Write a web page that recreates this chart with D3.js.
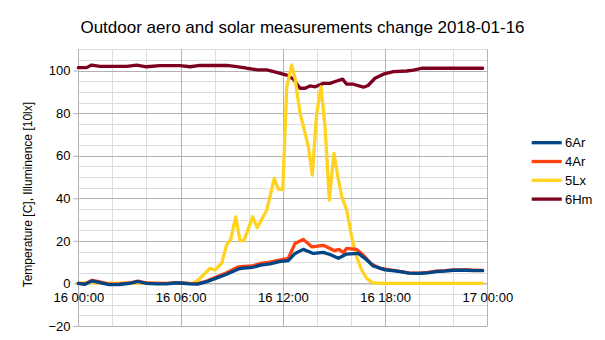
<!DOCTYPE html>
<html>
<head>
<meta charset="utf-8">
<script src="https://cdn.jsdelivr.net/npm/d3@7"></script>
<style>
  html, body { margin: 0; padding: 0; background: #fff; }
  svg { display: block; }
  text { font-family: "Liberation Sans", Arial, sans-serif; fill: #000; }
</style>
</head>
<body>
<svg id="chart" width="605" height="340"></svg>
<script>
// ---------- data ----------
const chartTitle = "Outdoor aero and solar measurements change 2018-01-16";
const yAxisTitle = "Temperature [C], Illuminence [10lx]";
const xTickHours = [0, 6, 12, 18, 24];
const xTickLabels = ["16 00:00", "16 06:00", "16 12:00", "16 18:00", "17 00:00"];
const yTickValues = [-20, 0, 20, 40, 60, 80, 100];
const seriesNames = ["6Ar", "4Ar", "5Lx", "6Hm"];
const seriesColors = ["#004586", "#ff420e", "#ffd320", "#7e0021"];

// hours since 16 00:00 and values
const hours6Ar = [0, 0.4, 0.8, 1.2, 1.8, 2.4, 3.0, 3.5, 4.0, 4.6, 5.2, 5.7, 6.0, 6.5, 7.0, 7.5, 8.1, 8.7, 9.4, 9.7, 10.2, 10.7, 11.25, 11.8, 12.32, 12.72, 13.2, 13.79, 14.38, 14.8, 15.26, 15.75, 16.43, 16.82, 17.31, 18.0, 18.7, 19.4, 20.0, 20.5, 21.0, 21.5, 22.0, 22.8, 23.2, 23.73];
const values6Ar = [0, -0.4, 1.2, 0.5, -0.6, -0.5, 0, 0.9, 0, -0.2, -0.2, 0.2, 0.2, -0.2, -0.3, 0.7, 2.5, 4.3, 6.8, 7.2, 7.5, 8.6, 9.2, 10.2, 10.7, 14.1, 16.0, 14.1, 14.6, 13.5, 11.8, 13.8, 14.1, 11.8, 8.2, 6.4, 5.8, 4.8, 4.7, 5.0, 5.6, 5.8, 6.2, 6.2, 6.0, 6.0];

const hours4Ar = [0, 0.4, 0.8, 1.2, 1.8, 2.4, 3.0, 3.5, 4.0, 4.6, 5.2, 5.7, 6.0, 6.5, 7.0, 7.5, 8.1, 8.7, 9.4, 9.7, 10.2, 10.7, 11.25, 11.8, 12.32, 12.72, 13.2, 13.7, 14.38, 15.04, 15.3, 15.55, 15.75, 16.33, 16.72, 17.2, 17.71, 18.4, 19.4, 20.0, 20.5, 21.0, 21.5, 22.0, 22.8, 23.2, 23.73];
const values4Ar = [0, -0.2, 1.5, 0.8, -0.3, -0.2, 0.2, 1.1, 0.2, 0, 0, 0.4, 0.3, 0, -0.1, 1.0, 3.0, 5.0, 7.8, 8.0, 8.2, 9.4, 10.0, 11.0, 11.8, 18.8, 20.7, 17.2, 17.9, 15.4, 16.0, 14.4, 16.5, 16.0, 13.3, 9.1, 7.1, 6.2, 5.0, 4.8, 5.2, 5.8, 6.0, 6.4, 6.3, 6.2, 6.1];

const hours5Lx = [0, 0.8, 1.5, 3.5, 5.0, 6.0, 6.7, 7.04, 7.73, 8.02, 8.41, 8.7, 8.94, 9.24, 9.49, 9.72, 10.23, 10.5, 11.06, 11.5, 11.74, 12.0, 12.23, 12.52, 12.72, 13.01, 13.31, 13.5, 13.73, 13.99, 14.24, 14.48, 14.73, 15.0, 15.2, 15.46, 15.75, 16.04, 16.33, 16.63, 16.92, 17.27, 18.0, 20.0, 22.0, 23.73];
const values5Lx = [0, 0.5, 0, 0.3, 0, 0, 0, 1.6, 7.1, 6.3, 9.4, 18.0, 20.7, 31.3, 20.1, 20.1, 31.3, 26.2, 34.5, 49.4, 44.2, 44.2, 92.4, 102.6, 96.4, 80.0, 70.5, 64.2, 50.9, 80.0, 92.4, 73.6, 39.2, 61.1, 51.7, 40.7, 34.5, 21.9, 12.5, 6.3, 2.4, 0.3, 0, 0, 0, 0];

const hours6Hm = [0, 0.49, 0.78, 1.27, 2.84, 3.43, 4.0, 4.79, 5.97, 6.55, 7.14, 8.71, 9.3, 9.88, 10.47, 11.05, 11.64, 12.23, 12.62, 13.01, 13.3, 13.6, 13.9, 14.38, 14.77, 15.16, 15.51, 15.75, 16.14, 16.73, 17.0, 17.41, 17.9, 18.49, 19.27, 19.66, 20.15, 23.73];
const values6Hm = [101.4, 101.4, 102.6, 102.0, 102.0, 102.6, 101.8, 102.3, 102.3, 101.8, 102.4, 102.4, 101.9, 101.1, 100.4, 100.3, 99.2, 97.9, 96.0, 91.7, 91.7, 92.8, 92.4, 94.0, 94.0, 95.1, 96.0, 93.6, 93.6, 92.2, 93.0, 96.4, 98.3, 99.5, 99.8, 100.2, 101.1, 101.1];

const seriesHours = [hours6Ar, hours4Ar, hours5Lx, hours6Hm];
const seriesValues = [values6Ar, values4Ar, values5Lx, values6Hm];

// ---------- layout ----------
const svg = d3.select("#chart");
svg.append("rect").attr("width", 605).attr("height", 340).attr("fill", "#fff");

const plot = { left: 78.3, right: 487.3, top: 49.3, bottom: 326 };
const x = d3.scaleLinear().domain([0, 24]).range([plot.left, plot.right]);
const y = d3.scaleLinear().domain([-20, 110]).range([plot.bottom, plot.top]);

const g = svg.append("g");

// minor gridlines
const minorX = d3.range(0, 25, 2).filter(h => h % 6 !== 0);
const minorY = d3.range(-15, 111, 5).filter(v => v % 20 !== 0);
g.selectAll(".minx").data(minorX).enter().append("line")
  .attr("x1", d => Math.round(x(d)) + 0.5).attr("x2", d => Math.round(x(d)) + 0.5)
  .attr("y1", plot.top).attr("y2", plot.bottom)
  .attr("stroke", "#dddddd").attr("stroke-width", 1);
g.selectAll(".miny").data(minorY).enter().append("line")
  .attr("y1", d => Math.round(y(d)) + 0.5).attr("y2", d => Math.round(y(d)) + 0.5)
  .attr("x1", plot.left).attr("x2", plot.right)
  .attr("stroke", "#dddddd").attr("stroke-width", 1);
// major gridlines
g.selectAll(".majx").data(xTickHours).enter().append("line")
  .attr("x1", d => Math.round(x(d)) + 0.5).attr("x2", d => Math.round(x(d)) + 0.5)
  .attr("y1", plot.top).attr("y2", plot.bottom)
  .attr("stroke", "#b3b3b3").attr("stroke-width", 1);
g.selectAll(".majy").data(yTickValues).enter().append("line")
  .attr("y1", d => Math.round(y(d)) + 0.5).attr("y2", d => Math.round(y(d)) + 0.5)
  .attr("x1", plot.left).attr("x2", plot.right)
  .attr("stroke", "#b3b3b3").attr("stroke-width", 1);

// y axis
const yAxis = d3.axisLeft(y).tickValues(yTickValues).tickSize(5).tickPadding(3).tickFormat(d3.format("d"));
const yAxisG = svg.append("g").attr("transform", `translate(${Math.round(plot.left) + 0.5},0)`).call(yAxis);
yAxisG.select(".domain").attr("stroke", "#b3b3b3").attr("d", `M0,${plot.top}V${plot.bottom}`);
yAxisG.selectAll(".tick line").attr("stroke", "#b3b3b3");
yAxisG.selectAll(".tick text").attr("font-size", 13).attr("font-family", "Liberation Sans, Arial, sans-serif").attr("fill", "#000");

// x axis (labels at y = 0)
const xAxis = d3.axisBottom(x).tickValues(xTickHours).tickSize(0).tickPadding(9)
  .tickFormat((d, i) => xTickLabels[i]);
const xAxisG = svg.append("g").attr("transform", `translate(0,${Math.round(y(0)) + 0.5})`).call(xAxis);
xAxisG.select(".domain").attr("stroke", "#b3b3b3");
xAxisG.selectAll(".tick text").attr("font-size", 13).attr("font-family", "Liberation Sans, Arial, sans-serif").attr("fill", "#000");

// lines (drawn in reverse so 6Ar is on top)
const line = d3.line().x(d => x(d[0])).y(d => y(d[1]));
for (let i = seriesNames.length - 1; i >= 0; i--) {
  const pts = seriesHours[i].map((h, k) => [h, seriesValues[i][k]]);
  svg.append("path").datum(pts)
    .attr("d", line)
    .attr("fill", "none")
    .attr("stroke", seriesColors[i])
    .attr("stroke-width", 3.3)
    .attr("stroke-linejoin", "round")
    .attr("stroke-linecap", "round");
}

// title
svg.append("text").attr("x", 302.5).attr("y", 32.5).attr("text-anchor", "middle")
  .attr("font-size", 17).text(chartTitle);

// y axis title
svg.append("text")
  .attr("transform", `translate(32,${(plot.top + plot.bottom) / 2 + 7}) rotate(-90)`)
  .attr("text-anchor", "middle").attr("font-size", 12).text(yAxisTitle);

// legend
const legend = svg.append("g");
seriesNames.forEach((name, i) => {
  const ly = 142.7 + i * 18.8;
  legend.append("line").attr("x1", 531.7).attr("x2", 561.7).attr("y1", ly).attr("y2", ly)
    .attr("stroke", seriesColors[i]).attr("stroke-width", 3.3);
  legend.append("text").attr("x", 565).attr("y", ly + 4.5).attr("font-size", 13).text(name);
});
</script>
</body>
</html>
